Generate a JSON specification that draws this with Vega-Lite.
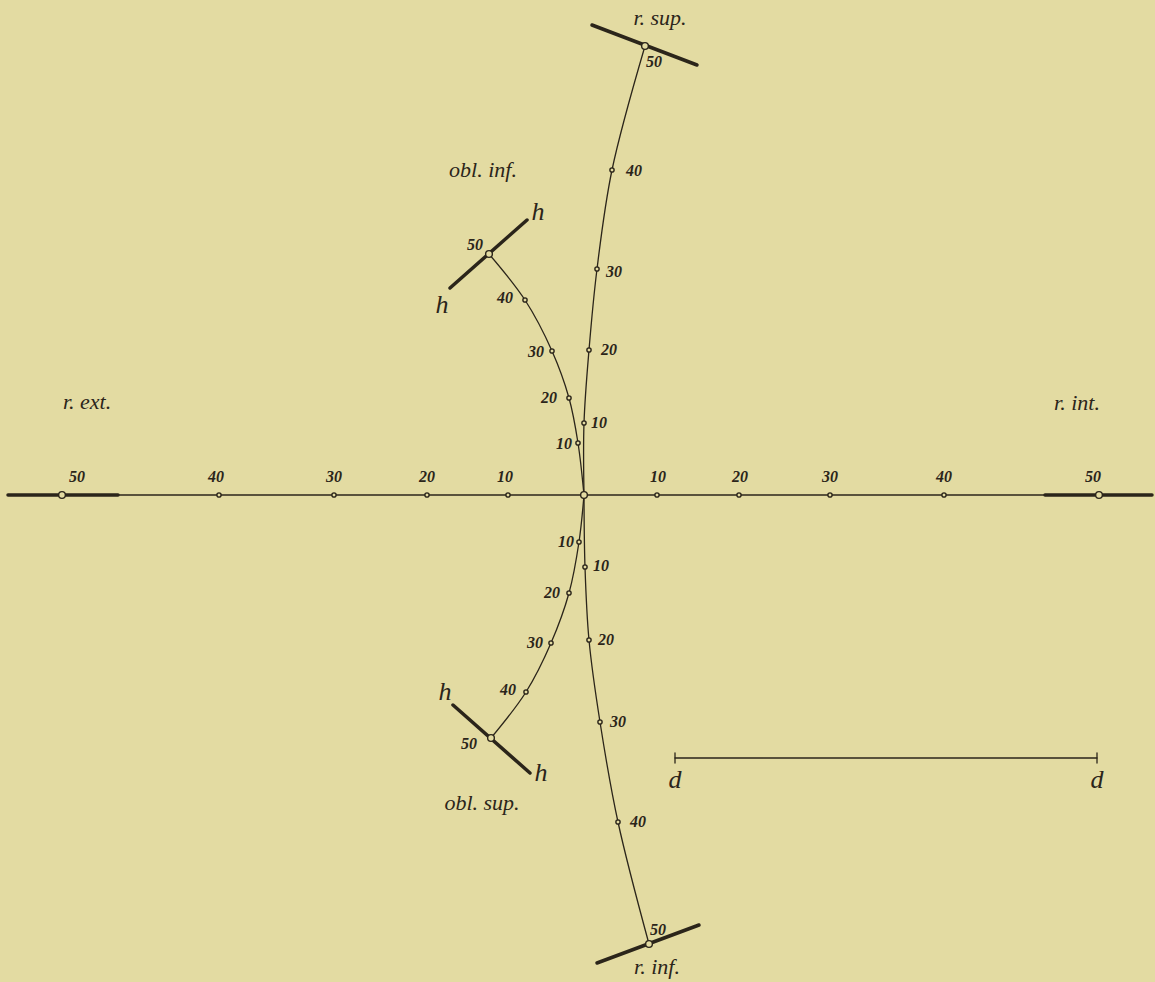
{
  "$schema": "https://vega.github.io/schema/vega-lite/v6.json",
  "width": 1155,
  "height": 982,
  "autosize": {"type": "fit", "contains": "padding"},
  "padding": 0,
  "background": "#e3dba2",
  "config": {"view": {"stroke": null}},
  "datasets": {
    "curves": [
      {"curve": "r. sup.", "i": 0, "x": 0, "y": 0},
      {"curve": "r. sup.", "i": 1, "x": 0, "y": 72},
      {"curve": "r. sup.", "i": 2, "x": 5, "y": 145},
      {"curve": "r. sup.", "i": 3, "x": 13, "y": 226},
      {"curve": "r. sup.", "i": 4, "x": 28, "y": 325},
      {"curve": "r. sup.", "i": 5, "x": 61, "y": 449},
      {"curve": "r. inf.", "i": 0, "x": 0, "y": 0},
      {"curve": "r. inf.", "i": 1, "x": 1, "y": -72},
      {"curve": "r. inf.", "i": 2, "x": 5, "y": -145},
      {"curve": "r. inf.", "i": 3, "x": 16, "y": -227},
      {"curve": "r. inf.", "i": 4, "x": 34, "y": -327},
      {"curve": "r. inf.", "i": 5, "x": 65, "y": -449},
      {"curve": "obl. inf.", "i": 0, "x": 0, "y": 0},
      {"curve": "obl. inf.", "i": 1, "x": -6, "y": 52},
      {"curve": "obl. inf.", "i": 2, "x": -15, "y": 97},
      {"curve": "obl. inf.", "i": 3, "x": -32, "y": 144},
      {"curve": "obl. inf.", "i": 4, "x": -59, "y": 195},
      {"curve": "obl. inf.", "i": 5, "x": -95, "y": 241},
      {"curve": "obl. sup.", "i": 0, "x": 0, "y": 0},
      {"curve": "obl. sup.", "i": 1, "x": -5, "y": -47},
      {"curve": "obl. sup.", "i": 2, "x": -15, "y": -98},
      {"curve": "obl. sup.", "i": 3, "x": -33, "y": -148},
      {"curve": "obl. sup.", "i": 4, "x": -58, "y": -197},
      {"curve": "obl. sup.", "i": 5, "x": -93, "y": -243},
      {"curve": "horizontal", "i": 0, "x": -576, "y": 0},
      {"curve": "horizontal", "i": 1, "x": 568, "y": 0}
    ],
    "bars": [
      {"name": "r. ext. end", "x": -576, "y": 0, "x2": -466, "y2": 0, "kind": "thick"},
      {"name": "r. int. end", "x": 461, "y": 0, "x2": 568, "y2": 0, "kind": "thick"},
      {"name": "r. sup. bar", "x": 8, "y": 470, "x2": 113, "y2": 430, "kind": "thick"},
      {"name": "r. inf. bar", "x": 13, "y": -468, "x2": 115, "y2": -430, "kind": "thick"},
      {"name": "obl. inf. h-h", "x": -134, "y": 207, "x2": -57, "y2": 275, "kind": "thick"},
      {"name": "obl. sup. h-h", "x": -131, "y": -210, "x2": -54, "y2": -278, "kind": "thick"},
      {"name": "d-d", "x": 91, "y": -263, "x2": 513, "y2": -263, "kind": "thin"},
      {"name": "d tick left", "x": 91, "y": -258, "x2": 91, "y2": -268, "kind": "thin"},
      {"name": "d tick right", "x": 513, "y": -258, "x2": 513, "y2": -268, "kind": "thin"}
    ],
    "points": [
      {"curve": "r. ext.", "val": 50, "x": -522, "y": 0},
      {"curve": "r. ext.", "val": 40, "x": -365, "y": 0},
      {"curve": "r. ext.", "val": 30, "x": -250, "y": 0},
      {"curve": "r. ext.", "val": 20, "x": -157, "y": 0},
      {"curve": "r. ext.", "val": 10, "x": -76, "y": 0},
      {"curve": "centre", "val": 0, "x": 0, "y": 0},
      {"curve": "r. int.", "val": 10, "x": 73, "y": 0},
      {"curve": "r. int.", "val": 20, "x": 155, "y": 0},
      {"curve": "r. int.", "val": 30, "x": 246, "y": 0},
      {"curve": "r. int.", "val": 40, "x": 360, "y": 0},
      {"curve": "r. int.", "val": 50, "x": 515, "y": 0},
      {"curve": "r. sup.", "val": 10, "x": 0, "y": 72},
      {"curve": "r. sup.", "val": 20, "x": 5, "y": 145},
      {"curve": "r. sup.", "val": 30, "x": 13, "y": 226},
      {"curve": "r. sup.", "val": 40, "x": 28, "y": 325},
      {"curve": "r. sup.", "val": 50, "x": 61, "y": 449},
      {"curve": "obl. inf.", "val": 10, "x": -6, "y": 52},
      {"curve": "obl. inf.", "val": 20, "x": -15, "y": 97},
      {"curve": "obl. inf.", "val": 30, "x": -32, "y": 144},
      {"curve": "obl. inf.", "val": 40, "x": -59, "y": 195},
      {"curve": "obl. inf.", "val": 50, "x": -95, "y": 241},
      {"curve": "r. inf.", "val": 10, "x": 1, "y": -72},
      {"curve": "r. inf.", "val": 20, "x": 5, "y": -145},
      {"curve": "r. inf.", "val": 30, "x": 16, "y": -227},
      {"curve": "r. inf.", "val": 40, "x": 34, "y": -327},
      {"curve": "r. inf.", "val": 50, "x": 65, "y": -449},
      {"curve": "obl. sup.", "val": 10, "x": -5, "y": -47},
      {"curve": "obl. sup.", "val": 20, "x": -15, "y": -98},
      {"curve": "obl. sup.", "val": 30, "x": -33, "y": -148},
      {"curve": "obl. sup.", "val": 40, "x": -58, "y": -197},
      {"curve": "obl. sup.", "val": 50, "x": -93, "y": -243}
    ],
    "numbers": [
      {"label": "50", "x": -507, "y": 18},
      {"label": "40", "x": -368, "y": 18},
      {"label": "30", "x": -250, "y": 18},
      {"label": "20", "x": -157, "y": 18},
      {"label": "10", "x": -79, "y": 18},
      {"label": "10", "x": 74, "y": 18},
      {"label": "20", "x": 156, "y": 18},
      {"label": "30", "x": 246, "y": 18},
      {"label": "40", "x": 360, "y": 18},
      {"label": "50", "x": 509, "y": 18},
      {"label": "10", "x": 15, "y": 72},
      {"label": "20", "x": 25, "y": 145},
      {"label": "30", "x": 30, "y": 223},
      {"label": "40", "x": 50, "y": 324},
      {"label": "50", "x": 70, "y": 433},
      {"label": "10", "x": -20, "y": 51},
      {"label": "20", "x": -35, "y": 97},
      {"label": "30", "x": -48, "y": 143},
      {"label": "40", "x": -79, "y": 197},
      {"label": "50", "x": -109, "y": 250},
      {"label": "10", "x": 17, "y": -71},
      {"label": "20", "x": 22, "y": -145},
      {"label": "30", "x": 34, "y": -227},
      {"label": "40", "x": 54, "y": -327},
      {"label": "50", "x": 74, "y": -435},
      {"label": "10", "x": -18, "y": -47},
      {"label": "20", "x": -32, "y": -98},
      {"label": "30", "x": -49, "y": -148},
      {"label": "40", "x": -76, "y": -195},
      {"label": "50", "x": -115, "y": -249}
    ],
    "names": [
      {"label": "r. sup.", "x": 76, "y": 477},
      {"label": "r. inf.", "x": 73, "y": -472},
      {"label": "obl. inf.", "x": -101, "y": 325},
      {"label": "obl. sup.", "x": -102, "y": -308},
      {"label": "r. ext.", "x": -497, "y": 93},
      {"label": "r. int.", "x": 493, "y": 92}
    ],
    "letters": [
      {"label": "h", "x": -46, "y": 283},
      {"label": "h", "x": -142, "y": 190},
      {"label": "h", "x": -139, "y": -197},
      {"label": "h", "x": -43, "y": -278},
      {"label": "d", "x": 91, "y": -285},
      {"label": "d", "x": 513, "y": -285}
    ]
  },
  "encoding": {
    "x": {"field": "x", "type": "quantitative", "scale": {"domain": [-584, 571], "nice": false, "zero": false}, "axis": null},
    "y": {"field": "y", "type": "quantitative", "scale": {"domain": [-487, 495], "nice": false, "zero": false}, "axis": null}
  },
  "layer": [
    {
      "data": {"name": "curves"},
      "mark": {"type": "line", "interpolate": "catmull-rom", "color": "#2b251a", "strokeWidth": 1.3},
      "encoding": {
        "detail": {"field": "curve", "type": "nominal"},
        "order": {"field": "i", "type": "quantitative"}
      }
    },
    {
      "data": {"name": "bars"},
      "mark": {"type": "rule", "color": "#2b251a", "strokeCap": "round"},
      "encoding": {
        "x2": {"field": "x2"},
        "y2": {"field": "y2"},
        "strokeWidth": {"condition": {"test": "datum.kind === 'thick'", "value": 3.5}, "value": 1.3}
      }
    },
    {
      "data": {"name": "points"},
      "mark": {"type": "point", "shape": "circle", "filled": false, "stroke": "#2b251a", "fill": "#e3dba2", "fillOpacity": 1, "strokeWidth": 1.4},
      "encoding": {
        "size": {"condition": {"test": "datum.val === 50 || datum.val === 0", "value": 45}, "value": 18}
      }
    },
    {
      "data": {"name": "numbers"},
      "mark": {"type": "text", "font": "Liberation Serif", "fontStyle": "italic", "fontWeight": "bold", "fontSize": 16, "color": "#2b251a", "align": "center", "baseline": "middle"},
      "encoding": {"text": {"field": "label", "type": "nominal"}}
    },
    {
      "data": {"name": "names"},
      "mark": {"type": "text", "font": "Liberation Serif", "fontStyle": "italic", "fontSize": 22, "color": "#2b251a", "align": "center", "baseline": "middle"},
      "encoding": {"text": {"field": "label", "type": "nominal"}}
    },
    {
      "data": {"name": "letters"},
      "mark": {"type": "text", "font": "Liberation Serif", "fontStyle": "italic", "fontSize": 26, "color": "#2b251a", "align": "center", "baseline": "middle"},
      "encoding": {"text": {"field": "label", "type": "nominal"}}
    }
  ]
}
